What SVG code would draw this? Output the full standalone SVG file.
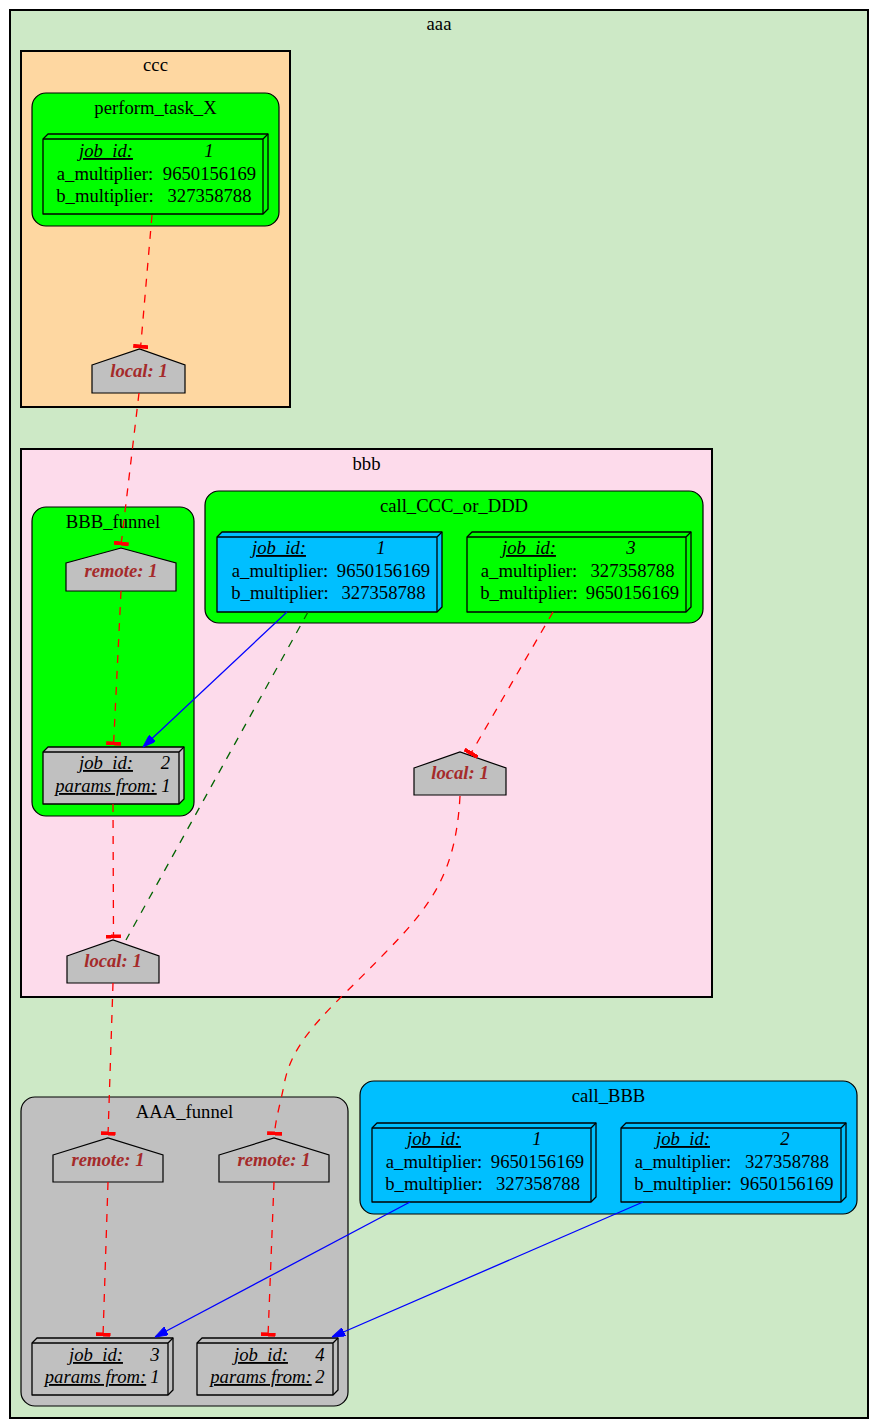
<svg xmlns="http://www.w3.org/2000/svg" width="879" height="1428" viewBox="0 0 879 1428">
<style>
text{font-family:"Liberation Serif","Times New Roman",serif;font-size:18.67px;fill:#000;text-anchor:middle}
.u{font-style:italic;text-decoration:underline}
.i{font-style:italic}
.h{font-style:italic;font-weight:bold;fill:#a52a2a}
.cl{stroke:#000;stroke-width:2}
.sc{stroke:#000;stroke-width:1.2}
.b3{stroke:#000;stroke-width:1.3;stroke-linejoin:round}
.hs{fill:#c0c0c0;stroke:#000;stroke-width:1.2}
.re{fill:none;stroke:#ff0000;stroke-width:1.3;stroke-dasharray:8,8;marker-end:url(#tee)}
.ge{fill:none;stroke:#006400;stroke-width:1.3;stroke-dasharray:8,8}
.be{fill:none;stroke:#0000ff;stroke-width:1.3;marker-end:url(#arr)}
</style>
<defs>
<marker id="tee" viewBox="0 0 4 15" refX="4" refY="7.5" markerWidth="4" markerHeight="15" markerUnits="userSpaceOnUse" orient="auto"><rect x="0" y="0" width="4" height="15" fill="#ff0000"/></marker>
<marker id="arr" viewBox="0 0 13 9" refX="13" refY="4.5" markerWidth="13" markerHeight="9" markerUnits="userSpaceOnUse" orient="auto"><path d="M0,0 L13,4.5 L0,9 Z" fill="#0000ff" stroke="#0000ff"/></marker>
</defs>

<g id="cluster_aaa">
<rect class="cl" x="10" y="10" width="858" height="1408" fill="#cde9c6"/>
<text x="439" y="30">aaa</text>
</g>

<g id="cluster_ccc">
<rect class="cl" x="21" y="51" width="269" height="356" fill="#fed7a1"/>
<text x="155.5" y="71">ccc</text>
</g>
<g id="cluster_perform_task_X">
<rect class="sc" x="32" y="93" width="247" height="133" rx="14" fill="#00ff00"/>
<text x="155.5" y="114">perform_task_X</text>
</g>

<g id="cluster_bbb">
<rect class="cl" x="21" y="449" width="691" height="548" fill="#fddbeb"/>
<text x="366.5" y="470">bbb</text>
</g>
<g id="cluster_BBB_funnel">
<rect class="sc" x="32" y="507" width="162" height="309" rx="14" fill="#00ff00"/>
<text x="113" y="528">BBB_funnel</text>
</g>
<g id="cluster_call_CCC_or_DDD">
<rect class="sc" x="205" y="491" width="498" height="132" rx="14" fill="#00ff00"/>
<text x="454" y="512">call_CCC_or_DDD</text>
</g>

<g id="cluster_AAA_funnel">
<rect class="sc" x="21" y="1097" width="327" height="309" rx="14" fill="#c0c0c0"/>
<text x="184.5" y="1118">AAA_funnel</text>
</g>
<g id="cluster_call_BBB">
<rect class="sc" x="360" y="1081" width="497" height="133" rx="14" fill="#00bfff"/>
<text x="608.5" y="1102">call_BBB</text>
</g>

<!-- nodes -->
<g id="ccc_job1">
<path class="b3" d="M43,139 L48,134 L268,134 L268,209 L263,214 L43,214 Z" fill="#00ff00"/>
<path class="b3" d="M43,139 L263,139 L263,214 M263,139 L268,134" fill="none"/>
<text class="u" x="106" y="157">job_id:</text><text class="i" x="209" y="157">1</text>
<text x="105" y="180">a_multiplier:</text><text x="209.5" y="180">9650156169</text>
<text x="105" y="202">b_multiplier:</text><text x="209.5" y="202">327358788</text>
</g>
<g id="ccc_local">
<path class="hs" d="M92,365 L139.5,349 L185,365 L185,393 L92,393 Z"/>
<text class="h" x="139" y="377">local: 1</text>
</g>

<g id="bbb_remote">
<path class="hs" d="M66,563 L121,548 L176,563 L176,591 L66,591 Z"/>
<text class="h" x="121" y="577">remote: 1</text>
</g>
<g id="bbb_job2">
<path class="b3" d="M43,752 L48,747 L184,747 L184,799 L179,804 L43,804 Z" fill="#c0c0c0"/>
<path class="b3" d="M43,752 L179,752 L179,804 M179,752 L184,747" fill="none"/>
<text class="u" x="106" y="769">job_id:</text><text class="i" x="165.5" y="769">2</text>
<text class="u" x="106" y="792">params from:</text><text class="i" x="166" y="792">1</text>
</g>
<g id="ccc_or_ddd_job1">
<path class="b3" d="M217,537 L222,532 L442,532 L442,607 L437,612 L217,612 Z" fill="#00bfff"/>
<path class="b3" d="M217,537 L437,537 L437,612 M437,537 L442,532" fill="none"/>
<text class="u" x="279" y="554">job_id:</text><text class="i" x="381" y="554">1</text>
<text x="280" y="577">a_multiplier:</text><text x="383.5" y="577">9650156169</text>
<text x="280" y="599">b_multiplier:</text><text x="383.5" y="599">327358788</text>
</g>
<g id="ccc_or_ddd_job3">
<path class="b3" d="M467,537 L472,532 L691,532 L691,607 L686,612 L467,612 Z" fill="#00ff00"/>
<path class="b3" d="M467,537 L686,537 L686,612 M686,537 L691,532" fill="none"/>
<text class="u" x="529" y="554">job_id:</text><text class="i" x="631" y="554">3</text>
<text x="529" y="577">a_multiplier:</text><text x="632.5" y="577">327358788</text>
<text x="529" y="599">b_multiplier:</text><text x="632.5" y="599">9650156169</text>
</g>
<g id="bbb_local_right">
<path class="hs" d="M414,768 L460,752 L506,768 L506,795 L414,795 Z"/>
<text class="h" x="460" y="779">local: 1</text>
</g>
<g id="bbb_local_left">
<path class="hs" d="M67,956 L113,940 L159,956 L159,983 L67,983 Z"/>
<text class="h" x="113" y="967">local: 1</text>
</g>

<g id="aaa_remote_left">
<path class="hs" d="M53,1155 L108,1138 L163,1155 L163,1182 L53,1182 Z"/>
<text class="h" x="108" y="1166">remote: 1</text>
</g>
<g id="aaa_remote_right">
<path class="hs" d="M219,1155 L274,1138 L329,1155 L329,1182 L219,1182 Z"/>
<text class="h" x="274" y="1166">remote: 1</text>
</g>
<g id="aaa_job3">
<path class="b3" d="M32,1343 L37,1338 L173,1338 L173,1390 L168,1395 L32,1395 Z" fill="#c0c0c0"/>
<path class="b3" d="M32,1343 L168,1343 L168,1395 M168,1343 L173,1338" fill="none"/>
<text class="u" x="96" y="1361">job_id:</text><text class="i" x="155" y="1361">3</text>
<text class="u" x="95.5" y="1383">params from:</text><text class="i" x="155" y="1383">1</text>
</g>
<g id="aaa_job4">
<path class="b3" d="M197,1343 L202,1338 L338,1338 L338,1390 L333,1395 L197,1395 Z" fill="#c0c0c0"/>
<path class="b3" d="M197,1343 L333,1343 L333,1395 M333,1343 L338,1338" fill="none"/>
<text class="u" x="261" y="1361">job_id:</text><text class="i" x="320" y="1361">4</text>
<text class="u" x="261" y="1383">params from:</text><text class="i" x="320" y="1383">2</text>
</g>
<g id="call_bbb_job1">
<path class="b3" d="M372,1128 L377,1123 L596,1123 L596,1197 L591,1202 L372,1202 Z" fill="#00bfff"/>
<path class="b3" d="M372,1128 L591,1128 L591,1202 M591,1128 L596,1123" fill="none"/>
<text class="u" x="434" y="1145">job_id:</text><text class="i" x="537" y="1145">1</text>
<text x="434" y="1168">a_multiplier:</text><text x="537.5" y="1168">9650156169</text>
<text x="434" y="1190">b_multiplier:</text><text x="538" y="1190">327358788</text>
</g>
<g id="call_bbb_job2">
<path class="b3" d="M621,1128 L626,1123 L846,1123 L846,1197 L841,1202 L621,1202 Z" fill="#00bfff"/>
<path class="b3" d="M621,1128 L841,1128 L841,1202 M841,1128 L846,1123" fill="none"/>
<text class="u" x="683" y="1145">job_id:</text><text class="i" x="785" y="1145">2</text>
<text x="683" y="1168">a_multiplier:</text><text x="787" y="1168">327358788</text>
<text x="683" y="1190">b_multiplier:</text><text x="787" y="1190">9650156169</text>
</g>

<g id="edges">
<path class="re" d="M152,215 L140.5,348.5"/>
<path class="re" d="M139,393 L121,545.5"/>
<path class="re" d="M121,591 L113.5,745.5"/>
<path class="be" d="M287,612 L143,747"/>
<path class="ge" d="M308,612 L126,940"/>
<path class="re" d="M113,804 L113.5,938.5"/>
<path class="re" d="M553,612 L470,755"/>
<path class="re" d="M113,983 L108,1135.5"/>
<path class="re" d="M460,796 C456,872 432,905 385,953 C335,1005 295,1035 285,1080 C281,1102 275,1120 274.5,1135.5"/>
<path class="re" d="M108,1182 L103,1336.5"/>
<path class="re" d="M274,1182 L268,1336.5"/>
<path class="be" d="M410,1202 L155,1337"/>
<path class="be" d="M643,1202 L332,1337"/>
</g>
</svg>
